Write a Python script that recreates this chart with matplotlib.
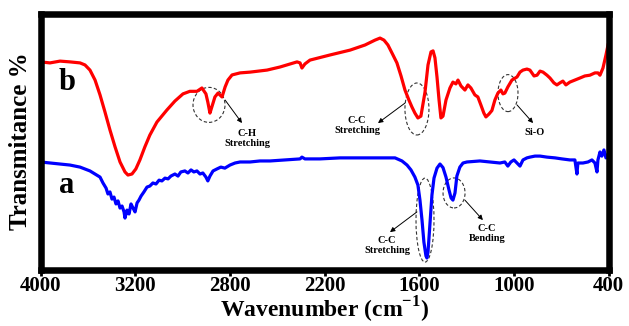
import numpy as np
import matplotlib.pyplot as plt
from matplotlib.patches import Ellipse

# 字体：Times 风格粗体
plt.rcParams['font.family'] = ['Liberation Serif', 'DejaVu Serif']
plt.rcParams['font.weight'] = 'bold'
plt.rcParams['mathtext.fontset'] = 'custom'
plt.rcParams['mathtext.rm'] = 'Liberation Serif:bold'
plt.rcParams['mathtext.bf'] = 'Liberation Serif:bold'

# 横轴刻度（原图刻度间距相等，但数值不等距）
tick_wn = [4000, 3200, 2800, 2200, 1600, 1000, 400]
tick_pos = [6, 5, 4, 3, 2, 1, 0]

# 曲线 b（红）
wn_b = [4000, 3920, 3835, 3751, 3666, 3624, 3582, 3539, 3497, 3455, 3413, 3370,
        3328, 3286, 3261, 3227, 3197, 3180, 3159, 3138, 3108, 3066, 3032, 2998,
        2969, 2939, 2918, 2901, 2893, 2884, 2876, 2863, 2850, 2833, 2820, 2808,
        2786, 2735, 2672, 2564, 2482, 2374, 2355, 2343, 2324, 2292, 2165, 2038,
        1943, 1880, 1848, 1823, 1798, 1766, 1741, 1715, 1690, 1665, 1646, 1627,
        1608, 1589, 1563, 1544, 1525, 1512, 1500, 1487, 1474, 1462, 1449, 1430,
        1405, 1386, 1367, 1354, 1335, 1310, 1291, 1272, 1247, 1228, 1209, 1190,
        1177, 1158, 1139, 1120, 1101, 1082, 1069, 1057, 1038, 1012, 980, 961,
        942, 917, 898, 872, 853, 834, 815, 790, 771, 746, 727, 708, 689, 670,
        645, 613, 581, 550, 518, 486, 467, 454, 435, 416, 403]
t_b = [81.1, 80.7, 81.4, 81.1, 80.7, 79.9, 77.9, 74.0, 68.2, 61.5, 54.5, 47.9,
       42.0, 38.1, 36.9, 37.3, 39.3, 42.8, 47.9, 52.5, 57.6, 62.3, 65.8, 68.6,
       69.6, 69.6, 70.9, 68.6, 65.4, 61.1, 63.5, 67.4, 68.9, 67.4, 71.3, 74.0,
       76.0, 76.8, 77.1, 77.9, 79.1, 81.1, 80.7, 78.7, 80.3, 81.8, 83.8, 85.7,
       87.7, 89.6, 90.4, 89.6, 87.7, 83.8, 80.7, 75.6, 70.1, 66.2, 63.5, 61.1,
       59.2, 59.9, 69.3, 79.9, 85.0, 85.4, 82.7, 75.2, 66.2, 59.2, 59.9, 66.2,
       70.9, 73.2, 72.5, 74.0, 71.7, 70.1, 72.1, 70.9, 68.2, 67.4, 64.3, 61.1,
       59.6, 60.7, 62.1, 66.2, 68.9, 70.1, 68.6, 68.9, 71.3, 74.0, 75.2, 77.1,
       77.9, 78.3, 77.9, 75.6, 75.9, 77.5, 77.1, 75.9, 74.8, 72.9, 72.1, 72.9,
       73.6, 72.1, 73.2, 74.0, 74.8, 75.6, 75.9, 76.8, 76.8, 75.9, 78.7, 83.8, 87.7]

# 曲线 a（蓝）
wn_a = [4000, 3920, 3835, 3751, 3666, 3582, 3539, 3497, 3472, 3446, 3430, 3413,
        3396, 3379, 3362, 3345, 3328, 3311, 3294, 3286, 3269, 3252, 3235, 3218,
        3201, 3192, 3184, 3175, 3163, 3150, 3138, 3125, 3112, 3099, 3087, 3074,
        3061, 3049, 3032, 3019, 3007, 2990, 2977, 2964, 2952, 2939, 2926, 2914,
        2901, 2893, 2884, 2871, 2854, 2838, 2821, 2799, 2767, 2735, 2672, 2609,
        2545, 2450, 2355, 2343, 2324, 2229, 2102, 1975, 1848, 1753, 1709, 1677,
        1652, 1627, 1608, 1595, 1582, 1570, 1557, 1551, 1544, 1532, 1519, 1506,
        1487, 1468, 1449, 1430, 1411, 1398, 1386, 1373, 1361, 1342, 1322, 1297,
        1215, 1152, 1088, 1057, 1038, 1019, 999, 980, 961, 942, 917, 898, 866,
        834, 790, 739, 695, 645, 613, 600, 594, 562, 530, 505, 486, 473, 467,
        454, 442, 429, 416, 403]
t_a = [42.0, 41.6, 41.2, 40.8, 40.0, 38.5, 37.3, 36.1, 33.8, 31.8, 29.5, 30.3,
       27.5, 28.3, 25.6, 26.8, 24.0, 24.8, 22.5, 20.1, 23.2, 21.7, 25.6, 24.0,
       22.5, 26.0, 27.1, 28.7, 30.3, 32.2, 32.6, 33.8, 33.4, 34.9, 34.6, 35.7,
       35.4, 36.5, 37.3, 36.5, 38.1, 38.5, 37.7, 38.9, 38.1, 38.5, 37.3, 37.7,
       36.1, 34.6, 36.5, 38.5, 39.3, 40.0, 39.6, 40.8, 41.6, 42.0, 42.0, 42.4,
       42.4, 42.8, 43.2, 43.9, 43.2, 43.2, 43.6, 43.6, 43.6, 43.6, 42.4, 40.8,
       38.9, 36.1, 33.0, 27.1, 19.3, 10.7, 5.3, 4.5, 6.8, 17.4, 29.1, 35.7,
       39.6, 41.2, 39.8, 36.1, 31.1, 28.0, 27.1, 29.9, 36.5, 40.0, 41.6, 42.0,
       42.4, 42.0, 41.6, 42.0, 40.4, 42.0, 42.8, 41.6, 40.4, 42.8, 43.6, 43.9,
       44.3, 44.3, 43.9, 43.6, 43.2, 42.8, 42.8, 37.3, 41.6, 41.6, 42.0, 42.8,
       41.6, 38.1, 42.8, 45.9, 44.3, 46.7, 43.6, 44.9]

# 标注：(文字, 文字位置, 箭头起点, 箭头终点)
notes = [
    ('C-H\nStretching', (2691, 51.0), (2820, 66.2), (2723, 57.2)),
    ('C-C\nStretching', (1994, 56.1), (1690, 65.0), (1861, 57.2)),
    ('Si-O', (866, 53.7), (980, 64.3), (878, 57.2)),
    ('C-C\nStretching', (1804, 9.2), (1614, 22.5), (1785, 14.6)),
    ('C-C\nBending', (1170, 13.9), (1310, 27.1), (1196, 19.3)),
]
# 虚线圈：(中心 wn, 中心 T, 宽 px, 高 px)
circles = [(2888, 64.3, 32, 35), (1614, 62.7, 24, 52), (1037, 68.9, 20, 37),
           (1563, 19.3, 18, 84), (1379, 29.9, 22, 30)]


# 分段线性横轴：wn 越大 pos 越大，再把轴反过来
def forward(x):
    return np.interp(x, tick_wn[::-1], tick_pos[::-1])


def inverse(p):
    return np.interp(p, tick_pos[::-1], tick_wn[::-1])


fig = plt.figure(figsize=(6.29, 3.26), dpi=100)
ax = fig.add_axes([40.5 / 629, 1 - 269.5 / 326, 568 / 629, 256 / 326])
ax.set_xscale('function', functions=(forward, inverse))

ax.plot(wn_b, t_b, color='#ff0000', lw=2.3)
ax.plot(wn_a, t_a, color='#0000ff', lw=2.3)

ax.set_xlim(4000, 400)
ax.set_ylim(0, 100)
ax.set_xticks(tick_wn)
ax.set_xticklabels([str(v) for v in tick_wn], fontsize=15, fontweight='bold')
ax.set_yticks([])
ax.tick_params(axis='x', direction='out', length=4, width=2, pad=1)
for s in ax.spines.values():
    s.set_linewidth(4.7)

ax.set_xlabel(r'Wavenumber (cm$^{\mathbf{-1}}$)', fontsize=17, fontweight='bold', labelpad=-1)
ax.set_ylabel('Transmitance %', fontsize=18, fontweight='bold', labelpad=6)

ax.text(3776, 73.2, 'b', fontsize=22, fontweight='bold', ha='center', va='center')
ax.text(3776, 33.0, 'a', fontsize=22, fontweight='bold', ha='center', va='center')

for txt, tpos, p0, p1 in notes:
    ax.text(tpos[0], tpos[1], txt, fontsize=7.5, fontweight='bold',
            ha='center', va='center', multialignment='center', linespacing=1.15)
    ax.annotate('', xy=p1, xytext=p0,
                arrowprops=dict(arrowstyle='-|>', color='black', lw=0.7,
                                mutation_scale=7, shrinkA=0, shrinkB=0))

# 圈在坐标轴比例坐标里画，避免非线性横轴把椭圆拉歪
to_axes = ax.transData + ax.transAxes.inverted()
for cx, cy, w, h in circles:
    c = to_axes.transform((cx, cy))
    ax.add_patch(Ellipse(c, w / 568, h / 256, transform=ax.transAxes,
                         fill=False, ls=(0, (3, 2)), lw=0.8, ec='#333333'))

plt.savefig('out.png', dpi=100)
